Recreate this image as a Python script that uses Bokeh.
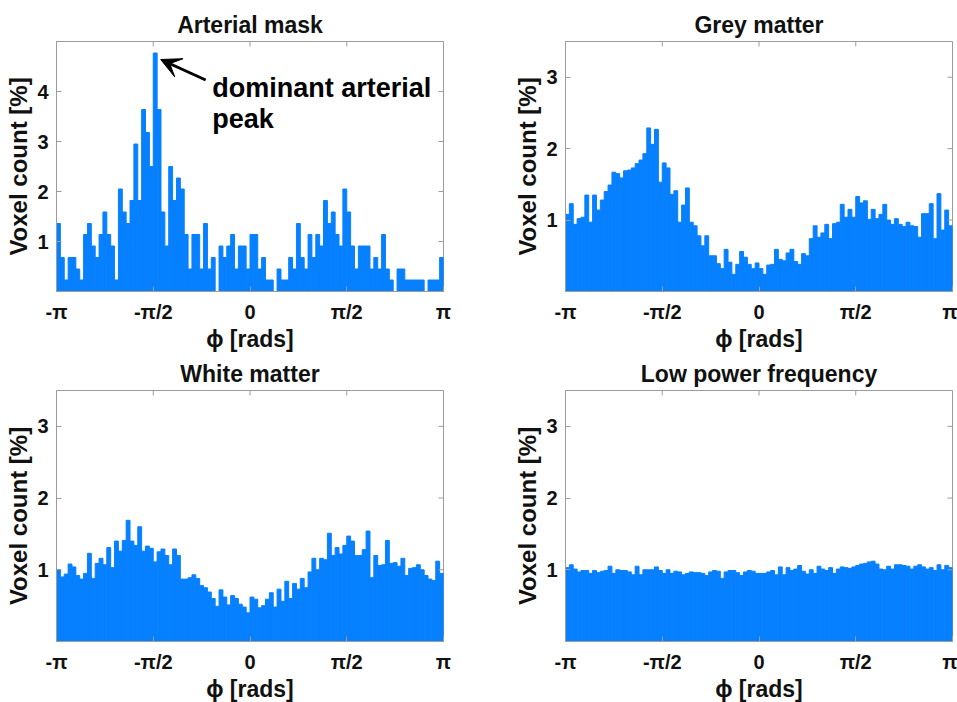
import numpy as np
from bokeh.plotting import figure
from bokeh.layouts import gridplot
from bokeh.models import (FixedTicker, Range1d, Label, Arrow, VeeHead,
                          CustomJSTickFormatter, ColumnDataSource)
from bokeh.embed import file_html
from bokeh.resources import INLINE

# ---------------- data ----------------
N_BINS = 100
x_tick_values = [-np.pi, -np.pi / 2, 0.0, np.pi / 2, np.pi]
x_tick_labels = ["-π", "-π/2", "0", "π/2", "π"]

titles = ["Arterial mask", "Grey matter", "White matter", "Low power frequency"]

arterial = [1.36, 0.68, 0.23, 0.68, 0.68, 0.45, 0.23, 1.14, 1.36, 0.91,
            0.68, 1.14, 1.59, 1.14, 0.91, 0.23, 2.05, 1.59, 1.36, 1.82,
            2.95, 1.82, 3.64, 3.18, 2.50, 4.77, 3.64, 1.59, 0.91, 2.50,
            1.82, 2.27, 2.05, 1.14, 0.45, 1.14, 1.14, 0.45, 1.36, 0.45,
            0.68, 0.00, 0.91, 0.68, 0.91, 1.14, 0.45, 0.91, 0.91, 0.45,
            1.14, 1.14, 0.45, 0.68, 0.23, 0.23, 0.00, 0.45, 0.23, 0.23,
            0.68, 0.45, 1.36, 0.68, 0.45, 1.14, 0.68, 1.14, 0.91, 1.82,
            1.36, 1.59, 1.14, 0.91, 2.05, 1.59, 0.91, 0.45, 0.91, 0.91,
            0.91, 0.45, 0.68, 0.45, 1.14, 0.45, 0.23, 0.00, 0.45, 0.45,
            0.23, 0.23, 0.23, 0.23, 0.23, 0.00, 0.23, 0.23, 0.23, 0.68]

grey = [1.08, 1.23, 0.94, 1.02, 1.04, 1.35, 0.97, 1.35, 1.14, 1.28,
        1.40, 1.49, 1.67, 1.65, 1.59, 1.69, 1.70, 1.73, 1.79, 1.84,
        1.93, 2.29, 2.06, 2.27, 1.53, 1.80, 1.73, 1.36, 1.41, 0.97,
        1.21, 1.45, 0.97, 0.92, 0.78, 0.64, 0.78, 0.50, 0.50, 0.39,
        0.32, 0.59, 0.41, 0.24, 0.38, 0.56, 0.48, 0.38, 0.32, 0.40,
        0.32, 0.24, 0.37, 0.38, 0.59, 0.45, 0.43, 0.54, 0.59, 0.42,
        0.38, 0.53, 0.50, 0.74, 0.92, 0.76, 0.82, 0.94, 0.74, 0.95,
        0.97, 1.22, 1.04, 1.15, 1.04, 1.33, 1.24, 1.27, 1.01, 1.15,
        1.02, 1.08, 1.22, 1.00, 0.94, 1.02, 0.94, 0.91, 0.97, 0.92,
        0.91, 0.76, 1.09, 1.09, 1.23, 0.74, 1.37, 0.86, 1.14, 0.92]

white = [1.00, 0.90, 0.94, 1.08, 1.04, 0.92, 0.87, 0.95, 1.23, 0.88,
         1.09, 1.16, 1.07, 1.31, 1.03, 1.40, 1.26, 1.41, 1.69, 1.40,
         1.34, 1.60, 1.26, 1.33, 1.30, 1.11, 1.25, 1.29, 1.20, 1.07,
         1.29, 1.20, 0.87, 0.87, 0.89, 0.93, 0.88, 0.78, 0.75, 0.69,
         0.60, 0.49, 0.72, 0.62, 0.51, 0.64, 0.60, 0.52, 0.48, 0.40,
         0.62, 0.59, 0.47, 0.50, 0.59, 0.68, 0.48, 0.73, 0.56, 0.84,
         0.60, 0.81, 0.73, 0.88, 0.75, 0.97, 1.16, 1.00, 1.16, 1.14,
         1.51, 1.20, 1.31, 1.22, 1.34, 1.47, 1.40, 1.20, 1.20, 1.28,
         1.54, 0.89, 1.20, 1.06, 1.07, 1.41, 1.09, 1.10, 1.05, 1.16,
         0.92, 1.02, 1.03, 1.07, 1.00, 0.92, 0.87, 0.85, 1.12, 0.95]

low_power = [1.03, 1.07, 1.01, 0.97, 0.99, 0.99, 0.95, 0.99, 0.96, 0.98,
             0.99, 1.05, 0.95, 1.00, 0.99, 0.99, 0.97, 0.93, 1.05, 0.93,
             1.00, 1.00, 1.00, 1.04, 0.99, 0.95, 1.00, 0.95, 0.98, 0.97,
             0.93, 0.95, 0.97, 0.96, 0.96, 0.95, 0.92, 0.97, 0.99, 0.98,
             0.88, 0.97, 0.99, 0.99, 0.96, 0.92, 0.97, 0.99, 0.98, 0.95,
             0.95, 0.95, 0.97, 0.99, 0.93, 1.04, 0.93, 1.03, 0.99, 1.01,
             1.06, 0.98, 0.94, 1.00, 0.95, 1.05, 1.01, 0.99, 1.03, 0.95,
             1.01, 1.04, 1.03, 1.02, 1.04, 1.06, 1.08, 1.09, 1.11, 1.12,
             1.08, 1.01, 1.00, 1.05, 1.01, 1.07, 1.07, 1.06, 1.05, 1.01,
             1.05, 1.07, 1.04, 1.01, 1.03, 0.99, 1.07, 1.00, 1.06, 1.03]

y_max = [5.0, 3.5, 3.5, 3.5]
y_ticks = [[1, 2, 3, 4], [1, 2, 3], [1, 2, 3], [1, 2, 3]]

# ---------------- style ----------------
FONT = "Liberation Sans"
BAR = "#0780ff"
AXC = "#9c9c9c"
TXT = "#111111"

edges = np.linspace(-np.pi, np.pi, N_BINS + 1)

x_fmt_code = """
let best = 0; let bd = 1e9;
for (let i = 0; i < vals.length; i++) {
  const d = Math.abs(vals[i] - tick);
  if (d < bd) { bd = d; best = i; }
}
return labs[best];
"""


def style_axis(ax):
    ax.axis_line_color = AXC
    ax.axis_line_width = 1
    ax.major_tick_line_color = AXC
    ax.major_tick_in = 5
    ax.major_tick_out = 0
    ax.minor_tick_line_color = None
    ax.major_label_text_font = FONT
    ax.major_label_text_font_style = "bold"
    ax.major_label_text_font_size = "20px"
    ax.major_label_text_color = TXT
    ax.axis_label_text_font = FONT
    ax.axis_label_text_font_style = "bold"
    ax.axis_label_text_color = TXT


def make_panel(idx, values, left_border, right_border, top_border, bottom_border,
               frame_h, title_standoff):
    p = figure(frame_width=387, frame_height=frame_h,
               x_range=Range1d(-np.pi, np.pi), y_range=Range1d(0, y_max[idx]),
               output_backend="svg", toolbar_location=None,
               min_border_left=left_border, min_border_right=right_border,
               min_border_top=top_border, min_border_bottom=bottom_border,
               title=titles[idx])
    p.background_fill_color = "white"
    p.border_fill_color = "white"
    p.outline_line_color = AXC
    p.outline_line_width = 1
    p.xgrid.visible = False
    p.ygrid.visible = False

    src = ColumnDataSource(dict(left=edges[:-1], right=edges[1:],
                                top=values, bottom=[0.0] * N_BINS))
    p.quad(left="left", right="right", top="top", bottom="bottom", source=src,
           fill_color=BAR, line_color=BAR, line_width=1)

    # inward ticks on the top and right edges of the box (clipped to the frame)
    p.scatter(x=x_tick_values, y=[y_max[idx]] * len(x_tick_values), marker="dash",
              angle=np.pi / 2, size=10, line_color=AXC, line_width=1)
    p.scatter(x=[np.pi] * len(y_ticks[idx]), y=y_ticks[idx], marker="dash",
              size=10, line_color=AXC, line_width=1)

    p.xaxis.ticker = FixedTicker(ticks=x_tick_values)
    p.xaxis.formatter = CustomJSTickFormatter(
        args=dict(vals=x_tick_values, labs=x_tick_labels), code=x_fmt_code)
    p.yaxis.ticker = FixedTicker(ticks=y_ticks[idx])
    style_axis(p.xaxis[0])
    style_axis(p.yaxis[0])
    p.xaxis.major_label_standoff = 9
    p.yaxis.major_label_standoff = 8

    p.xaxis.axis_label = "ϕ [rads]"
    p.yaxis.axis_label = "Voxel count [%]"
    p.xaxis.axis_label_text_font_size = "23px"
    p.yaxis.axis_label_text_font_size = "24px"
    p.xaxis.axis_label_standoff = 0
    p.yaxis.axis_label_standoff = 2

    p.title.align = "center"
    p.title.text_font = FONT
    p.title.text_font_style = "bold"
    p.title.text_font_size = "23px"
    p.title.text_color = TXT
    p.title.standoff = title_standoff
    return p


p1 = make_panel(0, arterial, 56, 35, 41, 60, 250, 7)
p2 = make_panel(1, grey, 87, 5, 41, 60, 250, 7)
p3 = make_panel(2, white, 56, 35, 36, 62, 251, 7)
p4 = make_panel(3, low_power, 87, 5, 36, 62, 251, 7)

# annotation on the arterial panel
p1.add_layout(Arrow(end=VeeHead(size=20, fill_color="black", line_color="black"),
                    x_start=-0.72, y_start=4.23, x_end=-1.45, y_end=4.64,
                    line_color="black", line_width=3))
p1.add_layout(Label(x=-0.614, y=4.07, text="dominant arterial",
                    text_font=FONT, text_font_style="bold", text_font_size="27px",
                    text_color="black", text_baseline="alphabetic", text_align="left"))
p1.add_layout(Label(x=-0.614, y=3.46, text="peak",
                    text_font=FONT, text_font_style="bold", text_font_size="27px",
                    text_color="black", text_baseline="alphabetic", text_align="left"))

grid = gridplot([[p1, p2], [p3, p4]], toolbar_location=None)

html = file_html(grid, INLINE, title="Phase histograms")
html = html.replace("<head>", "<head><style>body{margin:0;padding:0;}</style>", 1)
open("out.html", "w").write(html)
